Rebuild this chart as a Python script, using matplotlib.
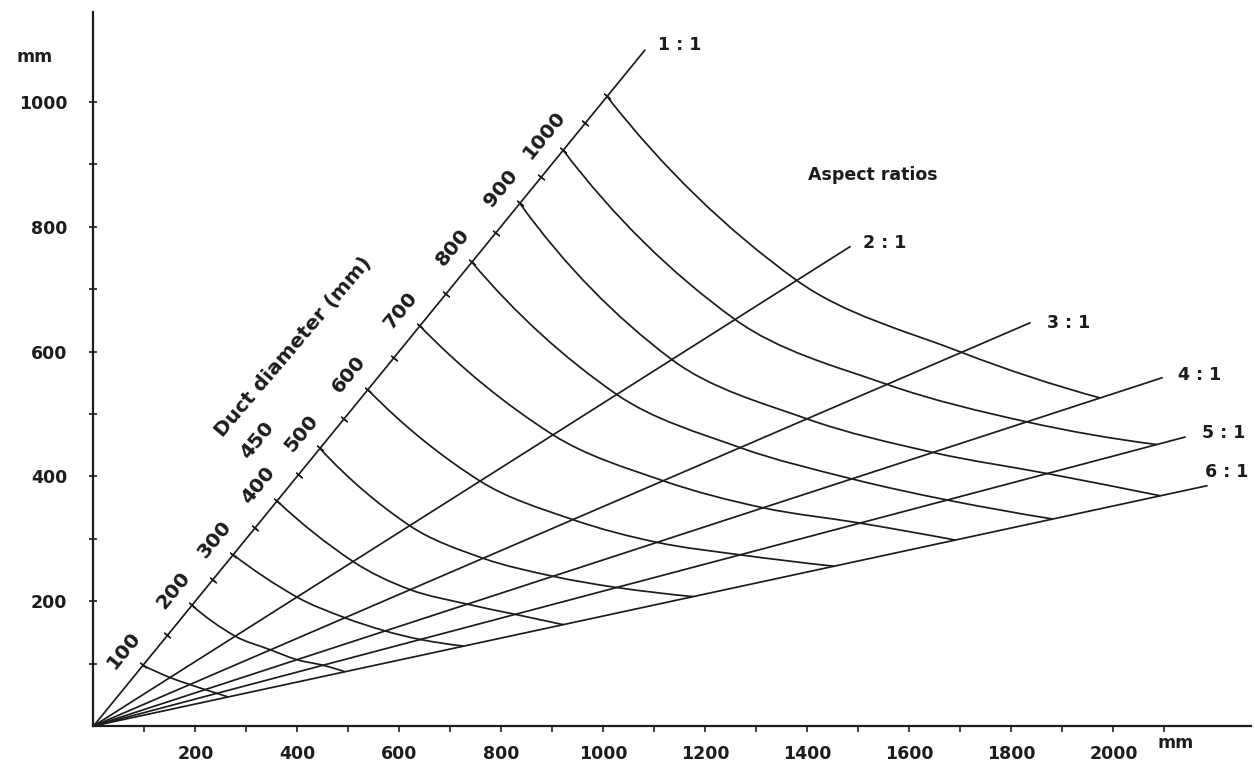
import math

import matplotlib.pyplot as plt
from matplotlib.path import Path
from matplotlib.patches import PathPatch

plt.rcParams["font.family"] = ["DejaVu Sans"]
plt.rcParams["font.weight"] = "bold"

# aspect ratio lines: end points (mm)
ratio_labels = ["1 : 1", "2 : 1", "3 : 1", "4 : 1", "5 : 1", "6 : 1"]
ratio_end_x = [1081, 1483, 1836, 2095, 2140, 2183]
ratio_end_y = [1083, 768, 646, 558, 463, 385]

# duct diameter curves: width (mm) where each one crosses the ratio lines
diameters = [100, 200, 300, 400, 500, 600, 700, 800, 900, 1000, 1100]
curve_widths = [
    [97, 150, 189, 219, 242, 264],
    [193, 278, 347, 399, 450, 493],
    [274, 399, 493, 572, 641, 726],
    [360, 509, 621, 733, 827, 921],
    [444, 620, 764, 901, 1026, 1176],
    [538, 758, 940, 1105, 1268, 1452],
    [640, 901, 1117, 1313, 1503, 1690],
    [742, 1026, 1268, 1487, 1674, 1881],
    [836, 1134, 1399, 1646, 1870, 2092],
    [921, 1258, 1556, 1830, 2085],
    [1007, 1379, 1702, 1974],
]

# diameter scale along the 1:1 line
scale_labels = ["100", "200", "300", "400", "450", "500", "600", "700", "800", "900", "1000"]
scale_label_w = [97, 193, 274, 360, 402, 444, 538, 640, 742, 836, 921]
scale_tick_w = [97, 145, 193, 234, 274, 317, 360, 402, 444, 491, 538, 589,
                640, 691, 742, 789, 836, 878, 921, 964, 1007]

ink = "#1c1c1c"
fig = plt.figure(figsize=(12.55, 7.73), dpi=100)
ax = fig.add_axes([0, 0, 1, 1])
ax.set_xlim(-183.3, 2277.5)
ax.set_ylim(-75.3, 1163.5)

# ratio lines from the origin
for xe, ye in zip(ratio_end_x, ratio_end_y):
    ax.plot([0, xe], [0, ye], color=ink, lw=1.25)


def smooth_path(pts):
    # smooth line through the read points: cubic Hermite on chord length
    n = len(pts)
    t = [0.0]
    for i in range(1, n):
        dx = (pts[i][0] - pts[i - 1][0]) * 0.51
        dy = (pts[i][1] - pts[i - 1][1]) * 0.624
        t.append(t[-1] + math.hypot(dx, dy))
    m = []
    for i in range(n):
        a, b = max(i - 1, 0), min(i + 1, n - 1)
        h = t[b] - t[a]
        m.append(((pts[b][0] - pts[a][0]) / h, (pts[b][1] - pts[a][1]) / h))
    if n > 2:
        for i, j, k in [(0, 1, 0), (n - 1, n - 2, n - 2)]:
            h = t[j] - t[i] if j > i else t[i] - t[j]
            lo, hi = min(i, j), max(i, j)
            d = ((pts[hi][0] - pts[lo][0]) / h, (pts[hi][1] - pts[lo][1]) / h)
            m[i] = (2 * d[0] - m[j][0], 2 * d[1] - m[j][1])
    verts = [pts[0]]
    codes = [Path.MOVETO]
    for i in range(n - 1):
        h = t[i + 1] - t[i]
        c1 = (pts[i][0] + m[i][0] * h / 3, pts[i][1] + m[i][1] * h / 3)
        c2 = (pts[i + 1][0] - m[i + 1][0] * h / 3, pts[i + 1][1] - m[i + 1][1] * h / 3)
        verts += [c1, c2, pts[i + 1]]
        codes += [Path.CURVE4] * 3
    return Path(verts, codes)


# constant diameter curves
for widths in curve_widths:
    pts = [(w, w * ye / xe) for w, xe, ye in zip(widths, ratio_end_x, ratio_end_y)]
    ax.add_patch(PathPatch(smooth_path(pts), fill=False, edgecolor=ink, lw=1.25))

# ticks and labels on the 1:1 line
s1 = ratio_end_y[0] / ratio_end_x[0]
ax.plot(scale_tick_w, [w * s1 for w in scale_tick_w], ls="none",
        marker=(2, 2, 50.7), ms=6, mew=1.0, color=ink)
for lab, w in zip(scale_labels, scale_label_w):
    off = (-30.1, 24.6) if lab == "450" else (-13.5, 11.0)
    ax.annotate(lab, (w, w * s1), xytext=off, textcoords="offset points",
                rotation=50.7, rotation_mode="anchor", ha="center", va="center",
                fontsize=14.5, color=ink)
ax.text(391, 607, "Duct diameter (mm)", rotation=49.5, rotation_mode="anchor",
        ha="center", va="center", fontsize=14.5, color=ink)

# ratio labels
label_offsets = [(9.4, 3.6), (9.4, 2.9), (12.2, 0), (11.5, 2.2), (12.2, 2.9), (-1.4, 10.1)]
for lab, xe, ye, off in zip(ratio_labels, ratio_end_x, ratio_end_y, label_offsets):
    ax.annotate(lab, (xe, ye), xytext=off, textcoords="offset points",
                ha="left", va="center", fontsize=12.5, color=ink)
ax.text(1401, 883, "Aspect ratios", ha="left", va="center", fontsize=12.5, color=ink)

# axes
for side in ["top", "right"]:
    ax.spines[side].set_visible(False)
ax.spines["left"].set_position(("data", 0))
ax.spines["bottom"].set_position(("data", 0))
ax.spines["left"].set_bounds(0, 1145)
ax.spines["bottom"].set_bounds(0, 2270)
for side in ["left", "bottom"]:
    ax.spines[side].set_linewidth(1.6)
    ax.spines[side].set_color(ink)

ax.set_xticks(range(200, 2001, 200))
ax.set_yticks(range(200, 1001, 200))
ax.set_xticks([100 * k for k in range(1, 22, 2)], minor=True)
ax.set_yticks([100 * k for k in range(1, 11, 2)], minor=True)
ax.tick_params(axis="x", which="both", direction="out", length=4, width=1.2,
               color=ink, pad=9.5, labelsize=12.5, labelcolor=ink)
ax.tick_params(axis="y", which="both", direction="inout", length=6, width=1.2,
               color=ink, pad=16, labelsize=12.5, labelcolor=ink)

ax.text(-115, 1072, "mm", ha="center", va="center", fontsize=12.5, color=ink)
ax.text(2121, -27, "mm", ha="center", va="center", fontsize=12.5, color=ink)

fig.savefig("out.png", dpi=100)
